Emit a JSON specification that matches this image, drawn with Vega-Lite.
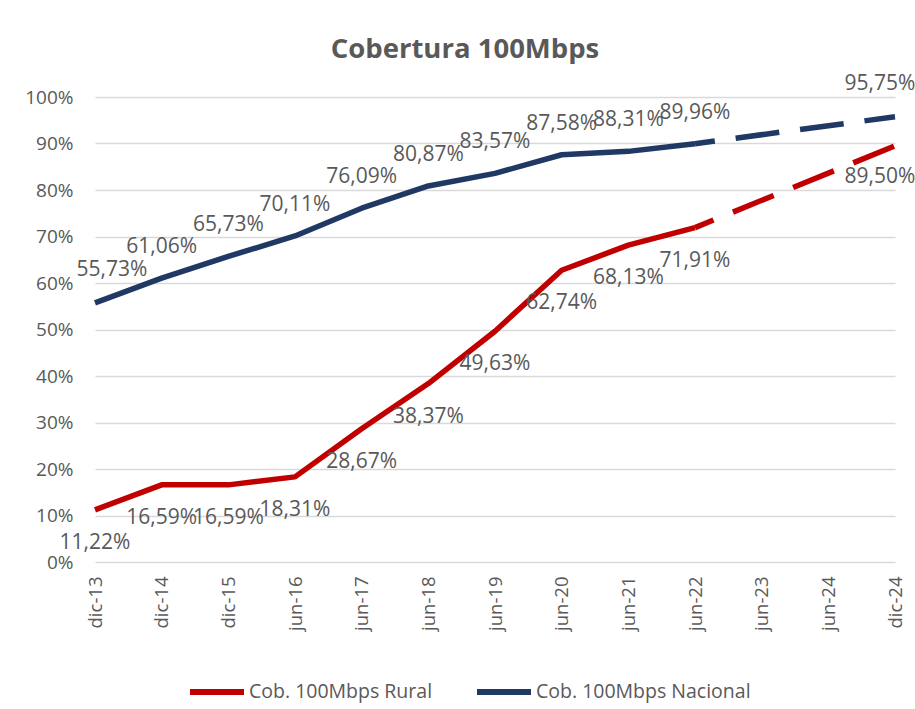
{
  "$schema": "https://vega.github.io/schema/vega-lite/v6.json",
  "autosize": {"type": "none"},
  "width": 800,
  "height": 465,
  "padding": {"left": 95, "top": 97, "right": 20, "bottom": 147},
  "background": "white",
  "config": {
    "locale": {"number": {"decimal": ",", "thousands": ".", "grouping": [3], "currency": ["", " €"]}},
    "view": {"stroke": null},
    "font": "Open Sans"
  },
  "title": {
    "text": "Cobertura 100Mbps",
    "font": "Open Sans",
    "fontSize": 27.5,
    "fontWeight": "bold",
    "color": "#595959",
    "anchor": "middle",
    "dx": -30,
    "offset": 9
  },
  "datasets": {
    "hist": [
      {"periodo": "dic-13", "serie": "Cob. 100Mbps Rural", "valor": 0.1122},
      {"periodo": "dic-14", "serie": "Cob. 100Mbps Rural", "valor": 0.1659},
      {"periodo": "dic-15", "serie": "Cob. 100Mbps Rural", "valor": 0.1659},
      {"periodo": "jun-16", "serie": "Cob. 100Mbps Rural", "valor": 0.1831},
      {"periodo": "jun-17", "serie": "Cob. 100Mbps Rural", "valor": 0.2867},
      {"periodo": "jun-18", "serie": "Cob. 100Mbps Rural", "valor": 0.3837},
      {"periodo": "jun-19", "serie": "Cob. 100Mbps Rural", "valor": 0.4963},
      {"periodo": "jun-20", "serie": "Cob. 100Mbps Rural", "valor": 0.6274},
      {"periodo": "jun-21", "serie": "Cob. 100Mbps Rural", "valor": 0.6813},
      {"periodo": "jun-22", "serie": "Cob. 100Mbps Rural", "valor": 0.7191},
      {"periodo": "dic-13", "serie": "Cob. 100Mbps Nacional", "valor": 0.5573},
      {"periodo": "dic-14", "serie": "Cob. 100Mbps Nacional", "valor": 0.6106},
      {"periodo": "dic-15", "serie": "Cob. 100Mbps Nacional", "valor": 0.6573},
      {"periodo": "jun-16", "serie": "Cob. 100Mbps Nacional", "valor": 0.7011},
      {"periodo": "jun-17", "serie": "Cob. 100Mbps Nacional", "valor": 0.7609},
      {"periodo": "jun-18", "serie": "Cob. 100Mbps Nacional", "valor": 0.8087},
      {"periodo": "jun-19", "serie": "Cob. 100Mbps Nacional", "valor": 0.8357},
      {"periodo": "jun-20", "serie": "Cob. 100Mbps Nacional", "valor": 0.8758},
      {"periodo": "jun-21", "serie": "Cob. 100Mbps Nacional", "valor": 0.8831},
      {"periodo": "jun-22", "serie": "Cob. 100Mbps Nacional", "valor": 0.8996}
    ],
    "proj": [
      {"periodo": "jun-22", "serie": "Cob. 100Mbps Rural", "valor": 0.7191},
      {"periodo": "dic-24", "serie": "Cob. 100Mbps Rural", "valor": 0.8950},
      {"periodo": "jun-22", "serie": "Cob. 100Mbps Nacional", "valor": 0.8996},
      {"periodo": "dic-24", "serie": "Cob. 100Mbps Nacional", "valor": 0.9575}
    ]
  },
  "encoding": {
    "x": {
      "field": "periodo",
      "type": "ordinal",
      "sort": null,
      "scale": {
        "type": "point",
        "padding": 0,
        "domain": ["dic-13", "dic-14", "dic-15", "jun-16", "jun-17", "jun-18", "jun-19", "jun-20", "jun-21", "jun-22", "jun-23", "jun-24", "dic-24"]
      },
      "axis": {
        "title": null,
        "labelAngle": -90,
        "labelFontSize": 18.5,
        "labelColor": "#595959",
        "labelPadding": 14,
        "ticks": false,
        "domain": false,
        "grid": false
      }
    },
    "y": {
      "field": "valor",
      "type": "quantitative",
      "scale": {"domain": [0, 1], "nice": false, "zero": true},
      "axis": {
        "title": null,
        "format": ".0%",
        "values": [0, 0.1, 0.2, 0.3, 0.4, 0.5, 0.6, 0.7, 0.8, 0.9, 1],
        "labelFontSize": 19,
        "labelColor": "#595959",
        "labelPadding": 22,
        "ticks": false,
        "domain": false,
        "grid": true,
        "gridColor": "#D9D9D9",
        "gridWidth": 1.3
      }
    },
    "color": {
      "field": "serie",
      "type": "nominal",
      "scale": {
        "domain": ["Cob. 100Mbps Rural", "Cob. 100Mbps Nacional"],
        "range": ["#C00000", "#203864"]
      },
      "legend": {
        "title": null,
        "orient": "none",
        "direction": "horizontal",
        "legendX": 92,
        "legendY": 565,
        "symbolType": "stroke",
        "symbolSize": 2916,
        "symbolStrokeWidth": 6,
        "labelFontSize": 19.5,
        "labelLimit": 400,
        "labelColor": "#595959",
        "labelOffset": 2,
        "columnPadding": 32
      }
    }
  },
  "layer": [
    {
      "data": {"name": "hist"},
      "mark": {"type": "line", "strokeWidth": 5.5, "strokeJoin": "round"}
    },
    {
      "data": {"name": "proj"},
      "mark": {"type": "line", "strokeWidth": 5.5, "strokeDash": [44, 21], "strokeDashOffset": 24}
    },
    {
      "data": {"name": "hist"},
      "transform": [{"filter": "datum.serie === 'Cob. 100Mbps Nacional' && datum.periodo !== 'dic-13'"}],
      "mark": {"type": "text", "fontSize": 21, "color": "#595959", "dy": -31},
      "encoding": {"text": {"field": "valor", "format": ".2%"}, "color": {"value": "#595959"}}
    },
    {
      "data": {"name": "hist"},
      "transform": [{"filter": "datum.serie === 'Cob. 100Mbps Nacional' && datum.periodo === 'dic-13'"}],
      "mark": {"type": "text", "fontSize": 21, "color": "#595959", "dy": -33, "dx": 17},
      "encoding": {"text": {"field": "valor", "format": ".2%"}, "color": {"value": "#595959"}}
    },
    {
      "data": {"name": "hist"},
      "transform": [{"filter": "datum.serie === 'Cob. 100Mbps Rural'"}],
      "mark": {"type": "text", "fontSize": 21, "color": "#595959", "dy": 33},
      "encoding": {"text": {"field": "valor", "format": ".2%"}, "color": {"value": "#595959"}}
    },
    {
      "data": {"name": "proj"},
      "transform": [{"filter": "datum.periodo === 'dic-24' && datum.serie === 'Cob. 100Mbps Nacional'"}],
      "mark": {"type": "text", "fontSize": 21, "color": "#595959", "dy": -33, "dx": -15},
      "encoding": {"text": {"field": "valor", "format": ".2%"}, "color": {"value": "#595959"}}
    },
    {
      "data": {"name": "proj"},
      "transform": [{"filter": "datum.periodo === 'dic-24' && datum.serie === 'Cob. 100Mbps Rural'"}],
      "mark": {"type": "text", "fontSize": 21, "color": "#595959", "dy": 31, "dx": -15},
      "encoding": {"text": {"field": "valor", "format": ".2%"}, "color": {"value": "#595959"}}
    }
  ]
}
